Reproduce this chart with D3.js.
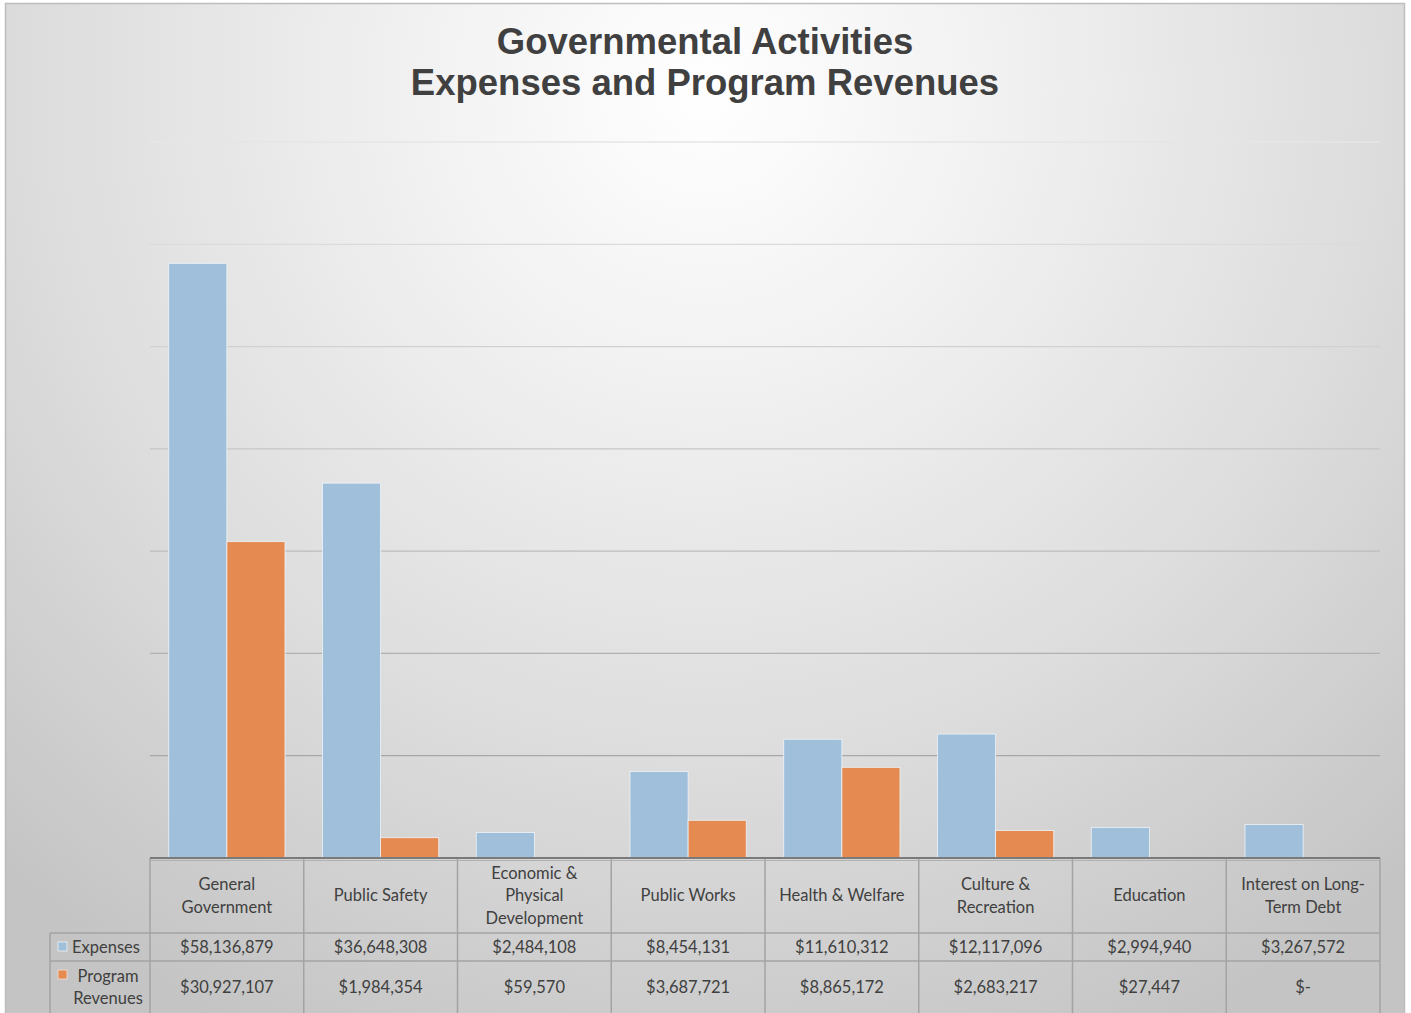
<!DOCTYPE html>
<html>
<head>
<meta charset="utf-8">
<script src="https://cdn.jsdelivr.net/npm/d3@7"></script>
<style>
  body { margin: 0; background: #fff; }
  svg { display: block; }
</style>
</head>
<body>
<svg id="chart" width="1411" height="1013"></svg>
<script>
var categories = ["General\nGovernment", "Public Safety", "Economic &\nPhysical\nDevelopment", "Public Works",
                  "Health & Welfare", "Culture &\nRecreation", "Education", "Interest on Long-\nTerm Debt"];
var expenses = [58136879, 36648308, 2484108, 8454131, 11610312, 12117096, 2994940, 3267572];
var revenues = [30927107, 1984354, 59570, 3687721, 8865172, 2683217, 27447, 0];
var seriesNames = ["Expenses", "Program\nRevenues"];
var gridTicks = [10e6, 20e6, 30e6, 40e6, 50e6, 60e6, 70e6];

var svg = d3.select("#chart");
var plotLeft = 150, plotRight = 1380, plotTop = 142, base = 858;
var colors = ["#a0bfdb", "#e58a50"];

var defs = svg.append("defs");
var bg = defs.append("radialGradient").attr("id", "bg")
    .attr("gradientUnits", "userSpaceOnUse")
    .attr("cx", 705).attr("cy", 90).attr("r", 1050);
bg.append("stop").attr("offset", "0").attr("stop-color", "#ffffff");
bg.append("stop").attr("offset", "0.3").attr("stop-color", "#f0f0f0");
bg.append("stop").attr("offset", "0.65").attr("stop-color", "#dcdcdc");
bg.append("stop").attr("offset", "1").attr("stop-color", "#c4c4c4");

// chart area
svg.append("rect").attr("x", 5.5).attr("y", 3.5).attr("width", 1399).attr("height", 1020)
    .attr("fill", "url(#bg)").attr("stroke", "#bdbdbd").attr("stroke-width", 1.5);

// title
var title = svg.append("text").attr("text-anchor", "middle")
    .attr("font-family", "Liberation Sans, Arial, sans-serif").attr("font-weight", "bold")
    .attr("font-size", 36.5).attr("fill", "#404040");
title.append("tspan").attr("x", 705).attr("y", 54).text("Governmental Activities");
title.append("tspan").attr("x", 705).attr("y", 95).text("Expenses and Program Revenues");

var x0 = d3.scaleBand().domain(d3.range(categories.length)).range([plotLeft, plotRight]);
var bw = x0.bandwidth();
var gap = 37.5;
var x1 = d3.scaleBand().domain([0, 1]).range([gap / 2, bw - gap / 2]);
var y = d3.scaleLinear().domain([0, 70e6]).range([base, plotTop]);

// gridlines
var gridCol = d3.scaleLinear().domain([plotTop, base]).range(["#e6e6e6", "#9c9c9c"]);
svg.append("g").selectAll("line").data(gridTicks).enter().append("line")
    .attr("x1", plotLeft).attr("x2", plotRight)
    .attr("y1", function(d) { return y(d); }).attr("y2", function(d) { return y(d); })
    .attr("stroke", function(d) { return gridCol(y(d)); }).attr("stroke-width", 1.3);

// bars
var groups = svg.append("g").selectAll("g").data(categories).enter().append("g")
    .attr("transform", function(d, i) { return "translate(" + x0(i) + ",0)"; });
groups.selectAll("rect").data(function(d, i) { return [expenses[i], revenues[i]]; })
    .enter().append("rect")
    .attr("x", function(d, j) { return x1(j); })
    .attr("width", x1.bandwidth())
    .attr("y", function(d) { return y(d); })
    .attr("height", function(d) { return base - y(d); })
    .attr("fill", function(d, j) { return colors[j]; })
    .attr("stroke", function(d) { return d > 0 ? "#eef3f8" : "none"; })
    .attr("stroke-width", 0.8)
    .attr("opacity", function(d) { return d > 0 ? 1 : 0; });

// data table
var font = "Lato, 'Open Sans', sans-serif";
var rowH = [858, 933, 961, 1020];
var tbl = svg.append("g").attr("stroke", "#a3a3a3").attr("stroke-width", 1.5).attr("fill", "none");
x0.domain().concat([categories.length]).forEach(function(i) {
  var xx = i < categories.length ? x0(i) : plotRight;
  tbl.append("line").attr("x1", xx).attr("x2", xx).attr("y1", base).attr("y2", rowH[3]);
});
tbl.append("line").attr("x1", 50).attr("x2", 50).attr("y1", rowH[1]).attr("y2", rowH[3]);
tbl.append("line").attr("x1", 50).attr("x2", plotRight).attr("y1", rowH[1]).attr("y2", rowH[1]);
tbl.append("line").attr("x1", 50).attr("x2", plotRight).attr("y1", rowH[2]).attr("y2", rowH[2]);

// axis line
svg.append("line").attr("x1", plotLeft).attr("x2", plotRight).attr("y1", base).attr("y2", base)
    .attr("stroke", "#7a7a7a").attr("stroke-width", 2);
svg.append("line").attr("x1", plotLeft).attr("x2", plotRight).attr("y1", base + 2.5).attr("y2", base + 2.5)
    .attr("stroke", "#b0b0b0").attr("stroke-width", 1);

function multiline(g, lines, cx, cy, lh) {
  var t = g.append("text").attr("text-anchor", "middle").attr("font-family", font)
      .attr("font-size", 16.5).attr("fill", "#404040");
  var y0 = cy - (lines.length - 1) * lh / 2;
  lines.forEach(function(s, k) {
    t.append("tspan").attr("x", cx).attr("y", y0 + k * lh).attr("dy", "0.35em").text(s);
  });
  return t;
}

var txt = svg.append("g");
categories.forEach(function(c, i) {
  multiline(txt, c.split("\n"), x0(i) + bw / 2, 895.5, 22.5);
});

var fmt = d3.format("$,");
function money(v) { return v === 0 ? "$-" : fmt(v); }
var rowCenters = [947, 987];
[expenses, revenues].forEach(function(arr, r) {
  arr.forEach(function(v, i) {
    multiline(txt, [money(v)], x0(i) + bw / 2, rowCenters[r], 22);
  });
});

// legend column
svg.append("rect").attr("x", 58).attr("y", 942).attr("width", 9).attr("height", 9)
    .attr("fill", colors[0]).attr("stroke", "#eef3f8").attr("stroke-width", 0.8);
svg.append("rect").attr("x", 58).attr("y", 970).attr("width", 9).attr("height", 9)
    .attr("fill", colors[1]).attr("stroke", "#f6e0d2").attr("stroke-width", 0.8);
multiline(txt, [seriesNames[0]], 106, 947, 22);
multiline(txt, seriesNames[1].split("\n"), 108, 987, 22);
</script>
</body>
</html>
